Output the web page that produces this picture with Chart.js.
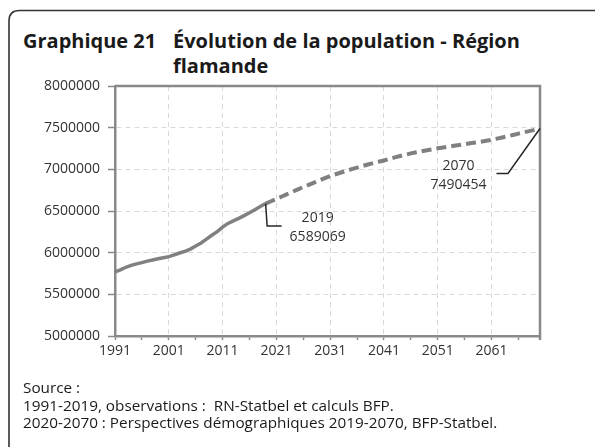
<!DOCTYPE html>
<html lang="fr">
<head>
<meta charset="utf-8">
<title>Graphique 21</title>
<script src="https://cdn.jsdelivr.net/npm/chart.js@4.4.1/dist/chart.umd.min.js"></script>
<style>
  html, body { margin: 0; padding: 0; background: #fff; }
  body { width: 595px; height: 447px; position: relative; overflow: hidden; font-family: 'Open Sans', sans-serif; color: #1a1a1a; }
  #frame { position: absolute; z-index: 5; pointer-events: none; left: 0; top: 0; }
  .title { position: absolute; font-weight: 700; font-size: 20px; line-height: 25px; white-space: nowrap; }
  #num { left: 23px; top: 27.5px; }
  #txt { left: 173px; top: 27.5px; }
  #source { position: absolute; left: 23px; top: 379px; font-size: 15.3px; line-height: 17.5px; white-space: nowrap; }
  #wrap { position: absolute; left: 0; top: 0; width: 595px; height: 447px; }
</style>
</head>
<body>
<div class="title" id="num">Graphique 21</div>
<div class="title" id="txt">Évolution de la population - Région<br>flamande</div>
<div id="wrap"><canvas id="chart"></canvas></div>
<div id="source">Source :<br>1991-2019, observations :&nbsp; RN-Statbel et calculs BFP.<br>2020-2070 : Perspectives démographiques 2019-2070, BFP-Statbel.</div>
<svg id="frame" width="595" height="447" viewBox="0 0 595 447">
  <path d="M 9 447 L 9 21 Q 9 10.5 19.5 10.5 L 595 10.5" fill="none" stroke="#333" stroke-width="1.6"/>
</svg>
<script>
// years on the x axis
const years = [
  1991, 1992, 1993, 1994, 1995, 1996, 1997, 1998, 1999, 2000,
  2001, 2002, 2003, 2004, 2005, 2006, 2007, 2008, 2009, 2010,
  2011, 2012, 2013, 2014, 2015, 2016, 2017, 2018, 2019, 2020,
  2021, 2022, 2023, 2024, 2025, 2026, 2027, 2028, 2029, 2030,
  2031, 2032, 2033, 2034, 2035, 2036, 2037, 2038, 2039, 2040,
  2041, 2042, 2043, 2044, 2045, 2046, 2047, 2048, 2049, 2050,
  2051, 2052, 2053, 2054, 2055, 2056, 2057, 2058, 2059, 2060,
  2061, 2062, 2063, 2064, 2065, 2066, 2067, 2068, 2069, 2070,
];

// 1991-2019, observations
const observed = [
  5768925, 5794000, 5825000, 5847000, 5866000, 5880000, 5899000, 5913000, 5927000, 5940000,
  5952552, 5973000, 5996000, 6016000, 6043000, 6079000, 6117000, 6162000, 6209000, 6252000,
  6307000, 6351000, 6382000, 6411000, 6444000, 6478000, 6516000, 6553000, 6589069,
];

// 2020-2070, perspectives
const projected = [
  6617000, 6645000, 6674000, 6703000, 6731000, 6759000, 6787000, 6814000, 6841000, 6868000,
  6894000, 6919000, 6941000, 6962000, 6982000, 7002000, 7021000, 7040000, 7058000, 7075000,
  7091000, 7106000, 7125000, 7143000, 7160000, 7176000, 7191000, 7205000, 7218000, 7230000,
  7241000, 7252000, 7262000, 7272000, 7282000, 7292000, 7302000, 7312000, 7322000, 7332000,
  7343000, 7354000, 7368000, 7382000, 7397000, 7412000, 7428000, 7443000, 7459000, 7474000,
  7490454,
];

const yTicks = { min: 5000000, max: 8000000, step: 500000 };

const GRID = '#d9d9d9';
const AXIS = '#898989';
const LINE = '#808080';
const NONE = 'rgba(0,0,0,0)';
const FONT = "'Open Sans', sans-serif";

const observedData = years.map((y, i) => (i < observed.length ? observed[i] : null));
const projectedData = years.map((y, i) => {
  if (i === observed.length - 1) return observed[i];
  if (i >= observed.length) return projected[i - observed.length];
  return null;
});

// top and right sides of the plot box
const plotBox = {
  id: 'plotBox',
  beforeDatasetsDraw(chart) {
    const { ctx, chartArea: a } = chart;
    ctx.save();
    ctx.strokeStyle = AXIS;
    ctx.lineWidth = 2.5;
    ctx.beginPath();
    ctx.moveTo(a.left, a.top);
    ctx.lineTo(a.right, a.top);
    ctx.lineTo(a.right, a.bottom + 4);
    ctx.stroke();
    ctx.restore();
  },
};

// leader lines with year / value labels
const callouts = {
  id: 'callouts',
  afterDatasetsDraw(chart, args, opts) {
    const { ctx, scales } = chart;
    ctx.save();
    opts.items.forEach((item) => {
      const x0 = scales.x.getPixelForValue(item.index);
      const y0 = scales.y.getPixelForValue(item.value);
      ctx.strokeStyle = '#262626';
      ctx.lineWidth = 1.5;
      ctx.beginPath();
      ctx.moveTo(x0, y0);
      item.path.forEach(([dx, dy]) => ctx.lineTo(x0 + dx, y0 + dy));
      ctx.stroke();
      ctx.fillStyle = '#333';
      ctx.font = `14px ${FONT}`;
      ctx.textAlign = 'center';
      ctx.textBaseline = 'middle';
      const lines = [String(years[item.index]), String(item.value)];
      lines.forEach((t, k) => ctx.fillText(t, x0 + item.text[0], y0 + item.text[1] + k * 19));
    });
    ctx.restore();
  },
};

const ctx = document.getElementById('chart');
new Chart(ctx, {
  type: 'line',
  data: {
    labels: years,
    datasets: [
      {
        label: 'observations',
        data: observedData,
        borderColor: LINE,
        borderWidth: 3.5,
        pointRadius: 0,
        tension: 0,
      },
      {
        label: 'perspectives',
        data: projectedData,
        borderColor: LINE,
        borderWidth: 4,
        borderDash: [10, 5],
        pointRadius: 0,
        tension: 0,
      },
    ],
  },
  options: {
    responsive: true,
    maintainAspectRatio: false,
    animation: false,
    devicePixelRatio: 1,
    layout: { padding: { left: 5, right: 55, top: 86, bottom: 81 } },
    scales: {
      x: {
        offset: false,
        afterFit: (scale) => { scale.height = 30; },
        grid: {
          color: (c) => (c.index % 10 === 0 && c.index > 0 ? GRID : NONE),
          tickColor: (c) => (c.index % 5 === 0 ? AXIS : NONE),
          tickLength: 4,
          tickWidth: 1.5,
          lineWidth: 1,
        },
        border: { color: AXIS, width: 2.5, dash: [5, 4] },
        ticks: {
          autoSkip: false,
          maxRotation: 0,
          padding: 3,
          color: '#333',
          font: { family: FONT, size: 14 },
          callback: (v, i) => (i % 10 === 0 ? String(years[i]) : ''),
        },
      },
      y: {
        min: yTicks.min,
        max: yTicks.max,
        afterFit: (scale) => { scale.width = 110; },
        grid: {
          color: (c) => (c.index > 0 ? GRID : NONE),
          tickColor: AXIS,
          tickLength: 7,
          tickWidth: 1.5,
          lineWidth: 1,
        },
        border: { color: AXIS, width: 2.5, dash: [5, 4] },
        ticks: {
          stepSize: yTicks.step,
          padding: 8,
          color: '#333',
          font: { family: FONT, size: 14 },
          callback: (v) => String(v),
        },
      },
    },
    plugins: {
      legend: { display: false },
      tooltip: { enabled: false },
      callouts: {
        items: [
          { index: 28, value: 6589069, path: [[1.5, 22.5], [16, 22.5]], text: [52, 14.5] },
          { index: 79, value: 7490454, path: [[-32, 45], [-43.5, 45]], text: [-81.5, 37.5] },
        ],
      },
    },
  },
  plugins: [plotBox, callouts],
});
</script>
</body>
</html>
